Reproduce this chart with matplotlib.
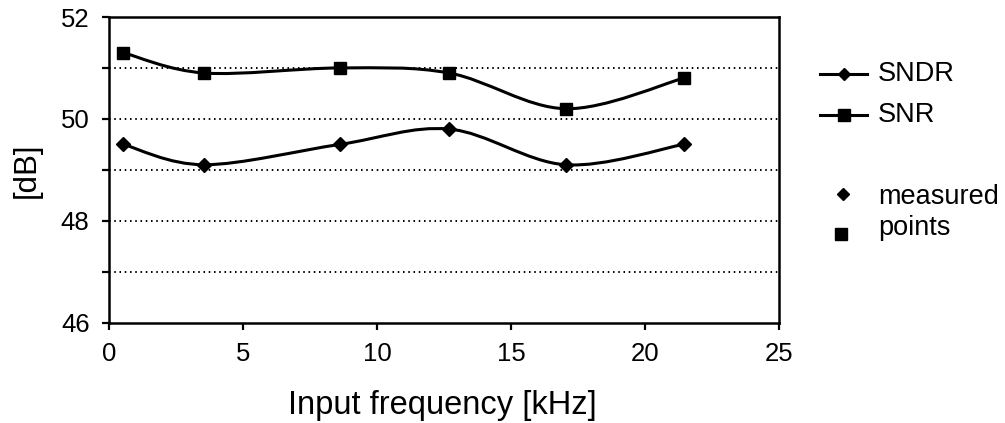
import matplotlib
matplotlib.use("Agg")
import matplotlib.pyplot as plt
from matplotlib.path import Path
from matplotlib.patches import PathPatch
from matplotlib.lines import Line2D
import numpy as np

plt.rcParams['font.family'] = ['Liberation Sans', 'DejaVu Sans']

# Measured data
freq_khz = [0.53, 3.56, 8.62, 12.70, 17.04, 21.44]
sndr_db = [49.5, 49.1, 49.5, 49.8, 49.1, 49.5]
snr_db = [51.3, 50.9, 51.0, 50.9, 50.2, 50.8]

x_ticks = [0, 5, 10, 15, 20, 25]
y_ticks = [46, 48, 50, 52]
y_grid = [47, 48, 49, 50, 51]

W, H = 1005, 423
fig = plt.figure(figsize=(W / 100, H / 100), dpi=100)
ax = fig.add_axes([109 / W, 1 - 322.7 / H, 670 / W, 305.7 / H])


def smooth_path(xs, ys):
    """Cubic Bezier through the points with Catmull-Rom tangents."""
    pts = np.column_stack([xs, ys]).astype(float)
    n = len(pts)
    verts = [pts[0]]
    codes = [Path.MOVETO]
    for i in range(n - 1):
        p0 = pts[i - 1] if i > 0 else pts[i]
        p1 = pts[i]
        p2 = pts[i + 1]
        p3 = pts[i + 2] if i + 2 < n else pts[i + 1]
        c1 = p1 + (p2 - p0) / 6.0
        c2 = p2 - (p3 - p1) / 6.0
        verts += [c1, c2, p2]
        codes += [Path.CURVE4] * 3
    return Path(verts, codes)


for ys, mk, ms in [(sndr_db, 'D', 7.5), (snr_db, 's', 8.5)]:
    ax.add_patch(PathPatch(smooth_path(freq_khz, ys), fill=False,
                           edgecolor='black', lw=2.2, zorder=3))
    ax.plot(freq_khz, ys, linestyle='none', marker=mk, ms=ms,
            color='black', zorder=4)

for g in y_grid:
    ax.axhline(g, color='black', lw=1.4, linestyle=(0, (0.8, 1.9)), zorder=1)

ax.set_xlim(0, 25)
ax.set_ylim(46, 52)
ax.set_xticks(x_ticks)
ax.set_yticks(y_ticks)
ax.set_yticks([47, 49, 51], minor=True)
ax.tick_params(axis='both', which='both', direction='out', length=5,
               width=1.6, colors='black')
ax.tick_params(axis='both', which='major', labelsize=18.5)
ax.tick_params(axis='x', pad=9)
ax.tick_params(axis='y', pad=9)
for s in ax.spines.values():
    s.set_linewidth(1.8)

ax.set_xlabel('Input frequency [kHz]', fontsize=23.5)
ax.xaxis.set_label_coords(0.497, -0.22)
ax.set_ylabel('[dB]', fontsize=22.5)
ax.yaxis.set_label_coords(-0.10, 0.5)


def fx(px):
    return px / W


def fy(py):
    return 1 - py / H


# Legend drawn in figure coordinates
legend_rows = [(74, 'D', 6.0, 'SNDR'), (115, 's', 8.5, 'SNR')]
for py, mk, ms, label in legend_rows:
    fig.add_artist(Line2D([fx(820), fx(867)], [fy(py), fy(py)],
                          color='black', lw=2.2, transform=fig.transFigure))
    fig.add_artist(Line2D([fx(843.5)], [fy(py)], marker=mk, ms=ms,
                          color='black', transform=fig.transFigure))
    fig.text(fx(878), fy(py), label, fontsize=19.5, va='center', ha='left')

fig.add_artist(Line2D([fx(843)], [fy(194)], marker='D', ms=6.5,
                      color='black', linestyle='none',
                      transform=fig.transFigure))
fig.add_artist(Line2D([fx(841)], [fy(234)], marker='s', ms=8.5,
                      color='black', linestyle='none',
                      transform=fig.transFigure))
fig.text(fx(878), fy(197), 'measured', fontsize=19.5, va='center', ha='left')
fig.text(fx(878), fy(228), 'points', fontsize=19.5, va='center', ha='left')

fig.savefig('out.png', dpi=100)
